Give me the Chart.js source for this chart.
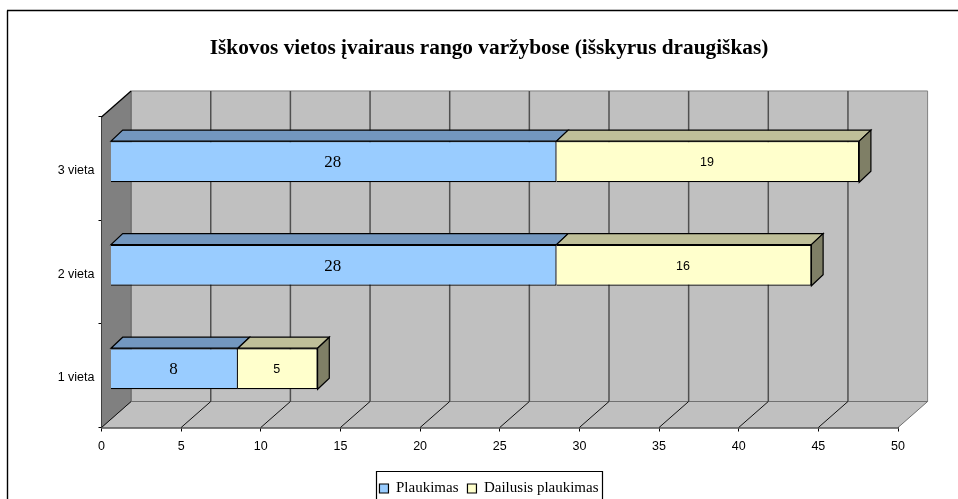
<!DOCTYPE html>
<html><head><meta charset="utf-8">
<style>html,body{margin:0;padding:0;background:#fff}canvas{display:block}</style>
<script src="https://cdn.jsdelivr.net/npm/chart.js@4"></script></head>
<body><div style="width:958px;height:499px"><canvas id="c" width="958" height="499"></canvas></div>
<script>
const categories = ['1 vieta', '2 vieta', '3 vieta'];
const plaukimas = [8, 28, 28];
const dailusis = [5, 16, 19];
const seriesNames = ['Plaukimas', 'Dailusis plaukimas'];
const titleText = 'Iškovos vietos įvairaus rango varžybose (išskyrus draugiškas)';

const WALL = {dx: 29.6, dy: -26};
const BAR_SHIFT = {x: 9, y: -7};
const BAR_DEPTH = {dx: 11.7, dy: -11};
const shades = [{top: '#7397BF', side: '#4C6580'}, {top: '#BFBF99', side: '#7F7F66'}];
const labelFonts = ['17px "Liberation Serif"', '12.5px "Liberation Sans"'];

function poly(ctx, pts, fill, stroke, lw) {
  ctx.beginPath();
  pts.forEach((p, i) => i ? ctx.lineTo(p[0], p[1]) : ctx.moveTo(p[0], p[1]));
  ctx.closePath();
  if (fill) { ctx.fillStyle = fill; ctx.fill(); }
  if (stroke) { ctx.strokeStyle = stroke; ctx.lineWidth = lw || 1; ctx.stroke(); }
}
function line(ctx, x1, y1, x2, y2, color, lw) {
  ctx.beginPath(); ctx.moveTo(x1, y1); ctx.lineTo(x2, y2);
  ctx.strokeStyle = color; ctx.lineWidth = lw; ctx.stroke();
}
const scene = {
  id: 'scene',
  beforeDraw(chart) {
    const ctx = chart.ctx;
    ctx.save();
    ctx.fillStyle = '#fff'; ctx.fillRect(0, 0, chart.width, chart.height);
    line(ctx, 7.5, chart.height, 7.5, 10.5, '#000', 1.4);
    line(ctx, 7, 10.5, chart.width, 10.5, '#000', 1.4);
    ctx.restore();
  },
  beforeDatasetsDraw(chart) {
    const {ctx, chartArea: a, scales: {x}} = chart;
    const {dx, dy} = WALL;
    ctx.save();
    poly(ctx, [[a.left + dx, a.top + dy], [a.right + dx, a.top + dy], [a.right + dx, a.bottom + dy], [a.left + dx, a.bottom + dy]], '#C0C0C0', '#808080', 1);
    poly(ctx, [[a.left, a.bottom], [a.right, a.bottom], [a.right + dx, a.bottom + dy], [a.left + dx, a.bottom + dy]], '#C0C0C0', '#707070', 1);
    poly(ctx, [[a.left, a.top], [a.left + dx, a.top + dy], [a.left + dx, a.bottom + dy], [a.left, a.bottom]], '#808080', null);
    line(ctx, a.left + dx, a.top + dy, a.left + dx, a.bottom + dy, '#666', 1);
    x.ticks.forEach(t => {
      const px = x.getPixelForValue(t.value);
      if (t.value > 0 && t.value < 50) line(ctx, px + dx, a.top + dy, px + dx, a.bottom + dy, '#505050', 1.5);
      if (t.value < 50) line(ctx, px, a.bottom, px + dx, a.bottom + dy, '#111', 1);
    });
    line(ctx, a.left, a.top, a.left + dx, a.top + dy, '#000', 1.3);
    ctx.restore();

    ctx.save();
    ctx.translate(BAR_SHIFT.x, BAR_SHIFT.y);
    const {dx: bx, dy: by} = BAR_DEPTH;
    const last = chart.data.datasets.length - 1;
    chart.data.datasets.forEach((ds, i) => {
      chart.getDatasetMeta(i).data.forEach(el => {
        const p = el.getProps(['x', 'y', 'base', 'height'], true);
        const top = p.y - p.height / 2, bot = p.y + p.height / 2;
        poly(ctx, [[p.base, top], [p.x, top], [p.x + bx, top + by], [p.base + bx, top + by]], shades[i].top, '#000', 1.2);
        if (i === last) poly(ctx, [[p.x, top], [p.x + bx, top + by], [p.x + bx, bot + by], [p.x, bot]], shades[i].side, '#000', 1.2);
      });
    });
  },
  afterDatasetsDraw(chart) {
    const ctx = chart.ctx;
    chart.data.datasets.forEach((ds, i) => {
      chart.getDatasetMeta(i).data.forEach((el, j) => {
        const p = el.getProps(['x', 'y', 'base'], true);
        ctx.font = labelFonts[i];
        ctx.fillStyle = '#000';
        ctx.textAlign = 'center';
        ctx.textBaseline = 'middle';
        ctx.fillText(String(ds.data[j]), (p.x + p.base) / 2 - 1, p.y + 1);
      });
    });
    ctx.restore();
  },
  afterDraw(chart) {
    const {ctx, legend: l} = chart;
    const boxes = l.legendHitBoxes;
    const first = boxes[0], end = boxes[boxes.length - 1];
    const cy = first.top + first.height / 2;
    ctx.save();
    ctx.strokeStyle = '#000'; ctx.lineWidth = 1.2;
    const fl = Math.round(first.left) - 2.5, fr = Math.round(end.left + end.width) + 3.5, ft = Math.round(cy - 18) + .5;
    ctx.beginPath();
    ctx.moveTo(fl, chart.height); ctx.lineTo(fl, ft); ctx.lineTo(fr, ft); ctx.lineTo(fr, chart.height);
    ctx.stroke();
    ctx.restore();
  }
};

new Chart(document.getElementById('c'), {
  type: 'bar',
  data: {
    labels: categories,
    datasets: [
      {label: seriesNames[0], data: plaukimas, backgroundColor: '#99CCFF', borderColor: '#000', borderWidth: 1.2},
      {label: seriesNames[1], data: dailusis, backgroundColor: '#FFFFCC', borderColor: '#000', borderWidth: 1.2}
    ]
  },
  plugins: [scene],
  options: {
    indexAxis: 'y',
    responsive: false,
    animation: false,
    clip: false,
    barPercentage: 0.397,
    categoryPercentage: 1,
    layout: {padding: {left: 20, right: 0, top: 0, bottom: -7}},
    scales: {
      x: {
        stacked: true, min: 0, max: 50,
        ticks: {stepSize: 5, color: '#000', font: {family: '"Liberation Sans"', size: 12.5}, padding: 8, maxRotation: 0},
        grid: {drawOnChartArea: false, color: '#000', tickLength: 4},
        border: {color: '#000', width: 1.6},
        afterFit(s) { s.height = 44.5; s.paddingRight = 60; }
      },
      y: {
        stacked: true, reverse: true,
        ticks: {color: '#000', font: {family: '"Liberation Sans"', size: 12.5}, padding: 4, labelOffset: 2},
        grid: {drawOnChartArea: false, color: '#000', tickLength: 3},
        border: {color: '#000', width: 1.6},
        afterFit(s) { s.width = 81.5; }
      }
    },
    plugins: {
      tooltip: {enabled: false},
      title: {display: true, text: titleText, color: '#000', font: {family: '"Liberation Serif"', size: 21.3, weight: 'bold'}, padding: {top: 36, bottom: 55.4}},
      legend: {position: 'bottom', labels: {color: '#000', font: {family: '"Liberation Serif"', size: 15}, boxWidth: 9, boxHeight: 9, padding: 9}}
    }
  }
});
</script></body></html>
